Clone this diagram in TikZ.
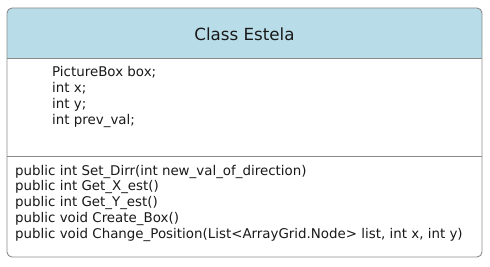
\documentclass[tikz,border=0pt]{standalone}
\usepackage{fontspec}
\setmainfont{DejaVu Sans}
\definecolor{classhead}{HTML}{B8DDE8}
\definecolor{classline}{HTML}{8A8A8A}
\tikzset{
  member/.style={font=\fontsize{13.4}{15.8}\selectfont, inner sep=0pt,
                 anchor=base west, align=left, text=black!90},
  title/.style={font=\fontsize{16.7}{20}\selectfont, inner sep=0pt,
                anchor=base, text=black!90},
}

\begin{document}
\begin{tikzpicture}[x=1pt, y=-1pt]
    \useasboundingbox (0,0) rectangle (490,267);
    % header band and outer frame
    \fill[classhead, rounded corners=5pt] (7,8) rectangle (482,58);
    \fill[classhead] (7,40) rectangle (482,58);
    \draw[classline, line width=0.9pt, rounded corners=5pt] (7,8) rectangle (482,257);
    \draw[classline, line width=0.9pt] (7,58) -- (482,58);
    \draw[classline, line width=0.9pt] (7,156) -- (482,156);
    \node[title] (name) at (244.5,41) {Class Estela};
    % base anchor sits on the last line
    \node[member] (fields) at (52,124.4) {PictureBox box;\\int x;\\int y;\\int prev\_val;};
    \node[member] (methods) at (15,238.2) {public int Set\_Dirr(int new\_val\_of\_direction)\\
      public int Get\_X\_est()\\public int Get\_Y\_est()\\public void Create\_Box()\\
      public void Change\_Position(List<ArrayGrid.Node> list, int x, int y)};
  \end{tikzpicture}
\end{document}
